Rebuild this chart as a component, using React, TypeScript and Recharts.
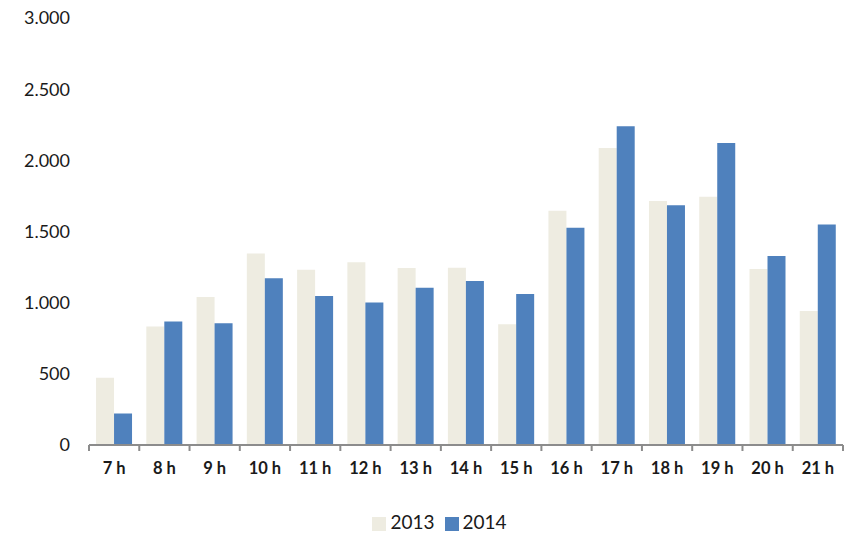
import React from "react";
import { BarChart, Bar, XAxis, YAxis, Legend } from "recharts";

const categories = ["7 h", "8 h", "9 h", "10 h", "11 h", "12 h", "13 h", "14 h", "15 h", "16 h", "17 h", "18 h", "19 h", "20 h", "21 h"];
const values2013 = [473, 833, 1040, 1345, 1232, 1284, 1244, 1246, 849, 1646, 2086, 1715, 1745, 1237, 941];
const values2014 = [221, 868, 856, 1171, 1047, 1002, 1105, 1152, 1061, 1527, 2239, 1684, 2121, 1327, 1550];
const yTicks = [0, 500, 1000, 1500, 2000, 2500, 3000];

const data = categories.map((c, i) => ({ cat: c, y2013: values2013[i], y2014: values2014[i] }));

const fmt = (v: number) => v.toLocaleString("de-DE");

const FONT = "Lato, 'Open Sans', sans-serif";
const CHART_W = 848;
const MARGIN_R = 5;
const Y_W = 89;
const HALF_BAND = (CHART_W - MARGIN_R - Y_W) / categories.length / 2;

const CatTick = (props: any) => {
  const { x, y, payload, index } = props;
  const last = index === categories.length - 1;
  return (
    <g>
      <line x1={x - HALF_BAND} x2={x - HALF_BAND} y1={y} y2={y + 6} stroke="#8c8c8c" strokeWidth={2} />
      {last && <line x1={x + HALF_BAND} x2={x + HALF_BAND} y1={y} y2={y + 6} stroke="#8c8c8c" strokeWidth={2} />}
      <text x={x} y={y + 23} textAnchor="middle" dominantBaseline="central" fill="#1a1a1a" fontSize={16.5} fontWeight={700} fontFamily={FONT}>
        {payload.value}
      </text>
    </g>
  );
};

export default function App() {
  return (
    <div style={{ position: "absolute", left: 0, top: 0, width: 848, height: 538, background: "#fff" }}>
      <BarChart
        width={CHART_W}
        height={538}
        data={data}
        margin={{ top: 18, right: MARGIN_R, left: 0, bottom: 5 }}
        barCategoryGap="14%"
        barGap={0}
      >
        <XAxis
          dataKey="cat"
          axisLine={{ stroke: "#8c8c8c", strokeWidth: 2 }}
          tickLine={false}
          tickSize={0}
          tickMargin={0}
          height={65}
          tick={<CatTick />}
          interval={0}
        />
        <YAxis
          domain={[0, 3000]}
          ticks={yTicks}
          width={Y_W}
          axisLine={false}
          tickLine={false}
          tickSize={0}
          tickMargin={19}
          tickFormatter={fmt}
          tick={{ fill: "#1a1a1a", fontSize: 18, fontFamily: FONT }}
        />
        <Legend
          verticalAlign="bottom"
          iconType="square"
          iconSize={14}
          wrapperStyle={{ fontSize: 19, fontFamily: FONT, color: "#1a1a1a", left: 23 }}
          formatter={(v: string) => <span style={{ color: "#1a1a1a" }}>{v}</span>}
        />
        <Bar dataKey="y2013" name="2013" fill="#EEECE1" isAnimationActive={false} />
        <Bar dataKey="y2014" name="2014" fill="#4F81BD" isAnimationActive={false} />
      </BarChart>
    </div>
  );
}
